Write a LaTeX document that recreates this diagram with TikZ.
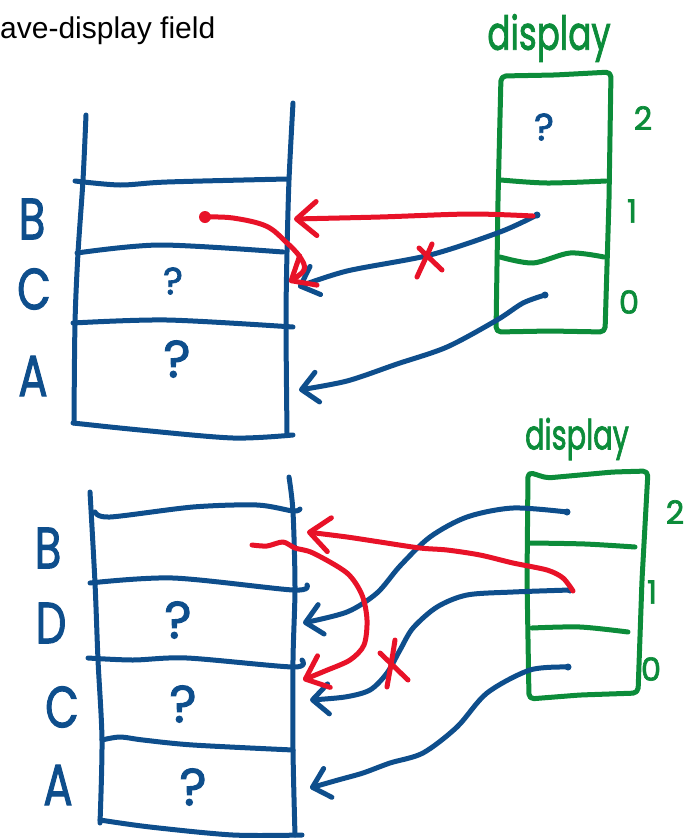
\documentclass[tikz,border=0pt]{standalone}
\usepackage{fontspec}
\setmainfont{Liberation Sans}
\newfontfamily\hand[FakeBold=2]{Poppins}
\usetikzlibrary{arrows.meta}
\definecolor{inkblue}{RGB}{14,78,140}
\definecolor{inkgreen}{RGB}{12,140,58}
\definecolor{inkred}{RGB}{232,18,40}
\newcommand\narrow[1]{\scalebox{0.75}[1]{#1}}

\begin{document}
\begin{tikzpicture}[x=1pt,y=-1pt,
  pen/.style={line width=5pt,line cap=round,line join=round},
  bluepen/.style={pen,draw=inkblue},
  greenpen/.style={pen,draw=inkgreen},
  redpen/.style={pen,draw=inkred},
  bluebarb/.style={-{Straight Barb[length=16pt,width=30pt,round]}},
  redbarb/.style={-{Straight Barb[length=20pt,width=34pt,round]}},
  wobble/.style={smooth,tension=0.5},
  letter/.style={text=inkblue,inner sep=0pt,font=\hand\fontsize{58}{58}\selectfont},
  query/.style={text=inkblue,inner sep=0pt,font=\hand\fontsize{52}{52}\selectfont},
  smallquery/.style={text=inkblue,inner sep=0pt,font=\hand\fontsize{38}{38}\selectfont},
  idx/.style={text=inkgreen,inner sep=0pt,font=\hand\fontsize{32}{32}\selectfont},
  arrayname/.style={text=inkgreen,inner sep=0pt,font=\hand\fontsize{36}{36}\selectfont},
]
\useasboundingbox (0,0) rectangle (699,838);

% heading
\node[anchor=base west,inner sep=0pt,font=\fontsize{30}{32}\selectfont] (title) at (0,38) {ave-display field};

% ---------- first state: stack B, C, A ----------
\draw[bluepen] plot[wobble] coordinates {(86,115) (83,180) (78,253) (75,323) (74,423)};
\draw[bluepen] plot[wobble] coordinates {(293,103) (289,180) (287,252) (286,323) (287,433)};
\draw[bluepen] plot[wobble] coordinates {(75,181) (120,185) (167,182) (287,179)};
\draw[bluepen] plot[wobble] coordinates {(77,253) (160,245) (283,252)};
\draw[bluepen] plot[wobble] coordinates {(73,323) (167,320) (293,327)};
\draw[bluepen] plot[wobble] coordinates {(73,423) (140,430) (233,438) (293,435)};

\node[letter] (topB) at (32,219) {\narrow{B}};
\node[letter] (topC) at (34,289) {\narrow{C}};
\node[letter] (topA) at (33,376) {\narrow{A}};
\node[smallquery] (topCq) at (173,281) {?};
\node[query] (topAq) at (177,359) {?};

% display array
\node[arrayname] (topdisp) at (549,38) {\scalebox{0.95}[1.3]{display}};
\draw[greenpen,rounded corners=5pt] (501,76) -- (555,75) -- (611,72) -- (609,200) -- (605,332) -- (550,331) -- (496,332) -- (498,200) -- cycle;
\draw[greenpen] plot[wobble] coordinates {(501,180) (547,183) (606,181)};
\draw[greenpen] plot[wobble] coordinates {(500,257) (533,263) (570,253) (604,257)};
\node[smallquery] (topq2) at (544,127) {?};
\node[idx] (top2) at (643,118) {2};
\node[idx] (top1) at (632,211) {1};
\node[idx] (top0) at (629,302) {0};

% pointers
\coordinate (top-d1) at (537,215);
\coordinate (top-d1r) at (533,216);
\coordinate (top-d0) at (545,295);
\coordinate (top-B) at (294,219);
\coordinate (top-C) at (298,287);
\coordinate (top-A) at (299,390);
\coordinate (top-Bdot) at (205,217);
\coordinate (top-Cr) at (289,282);

\draw[bluepen,bluebarb] plot[smooth] coordinates {(top-d1) (500,232) (430,255) (347,271) (top-C)};
\draw[bluepen,bluebarb] plot[smooth] coordinates {(top-d0) (523,303) (497,320) (447,347) (397,364) (347,381) (top-A)};
\fill[inkblue] (top-d1) circle (3.5pt) (top-d0) circle (3.5pt);

\draw[redpen,redbarb] plot[smooth] coordinates {(top-d1r) (470,214) (380,217) (top-B)};
\draw[redpen,redbarb] plot[smooth,tension=0.6] coordinates {(top-Bdot) (233,218) (266,226) (286,242) (300,257) (304,270) (top-Cr)};
\fill[inkred] (top-Bdot) circle (6pt);
\draw[redpen] (432,244) .. controls (426,258) and (421,268) .. (417,277);
\draw[redpen] (419,248) -- (442,270);

% ---------- second state: stack B, D, C, A ----------
\draw[bluepen] plot[wobble] coordinates {(90,492) (95,583) (98,660) (102,740) (100,823)};
\draw[bluepen] plot[wobble] coordinates {(289,477) (293,512) (295,587) (293,660) (293,750) (295,835)};
\draw[bluepen] plot[wobble] coordinates {(95,512) (110,517) (193,507) (257,505) (293,511) (300,509)};
\draw[bluepen] plot[wobble] coordinates {(90,583) (173,578) (293,590) (307,585)};
\draw[bluepen] plot[wobble] coordinates {(88,658) (133,660) (187,658) (293,667) (302,660)};
\draw[bluepen] plot[wobble] coordinates {(102,740) (120,737) (143,740) (193,745) (293,750)};
\draw[bluepen] plot[wobble] coordinates {(100,820) (150,827) (233,835) (302,835)};

\node[letter] (botB) at (48,548) {\narrow{B}};
\node[letter] (botD) at (51,623) {\narrow{D}};
\node[letter] (botC) at (62,707) {\narrow{C}};
\node[letter] (botA) at (58,785) {\narrow{A}};
\node[query] (botDq) at (178,620) {?};
\node[query] (botCq) at (183,704) {?};
\node[query] (botAq) at (193,787) {?};

\node[arrayname] (botdisp) at (577,439) {\scalebox{0.8}[1.15]{display}};
\draw[greenpen,rounded corners=5pt] (528,472) -- (547,478) -- (613,472) -- (648,471) -- (642,580) -- (638,693) -- (580,695) -- (529,699) -- (527,580) -- cycle;
\draw[greenpen] plot[wobble] coordinates {(530,543) (585,544) (635,547)};
\draw[greenpen] plot[wobble] coordinates {(532,628) (580,627) (628,632)};
\node[idx] (bot2) at (675,512) {2};
\node[idx] (bot1) at (652,592) {1};
\node[idx] (bot0) at (651,669) {0};

\coordinate (bot-d2) at (567,512);
\coordinate (bot-d1) at (570,590);
\coordinate (bot-d1r) at (573,591);
\coordinate (bot-d0) at (568,667);
\coordinate (bot-B) at (307,532);
\coordinate (bot-D) at (303,623);
\coordinate (bot-C) at (310,700);
\coordinate (bot-A) at (310,788);
\coordinate (bot-Bstart) at (252,545);
\coordinate (bot-Cr) at (303,680);

\draw[bluepen,bluebarb] plot[smooth] coordinates {(bot-d2) (513,508) (467,517) (430,537) (400,566) (377,593) (347,612) (bot-D)};
\draw[bluepen,bluebarb] plot[smooth] coordinates {(bot-d1) (513,592) (467,595) (437,607) (413,628) (400,650) (387,673) (370,690) (345,697) (bot-C)};
\draw[bluepen,bluebarb] plot[smooth] coordinates {(bot-d0) (530,670) (487,693) (457,727) (423,753) (390,763) (363,773) (338,780) (bot-A)};
\fill[inkblue] (bot-d2) circle (3.5pt) (bot-d1) circle (3.5pt) (bot-d0) circle (3.5pt);

\draw[redpen,redbarb] plot[smooth] coordinates {(bot-d1r) (563,578) (547,570) (513,563) (480,555) (447,550) (420,548) (380,542) (347,537) (bot-B)};
\draw[redpen,redbarb] plot[smooth] coordinates {(bot-Bstart) (267,546) (283,542) (295,548) (313,553) (347,573) (362,595) (367,620) (364,645) (350,660) (325,671) (bot-Cr)};
\draw[redpen] (395,640) .. controls (392,660) and (389,675) .. (387,687);
\draw[redpen] (380,653) -- (408,680);

\end{tikzpicture}
\end{document}
